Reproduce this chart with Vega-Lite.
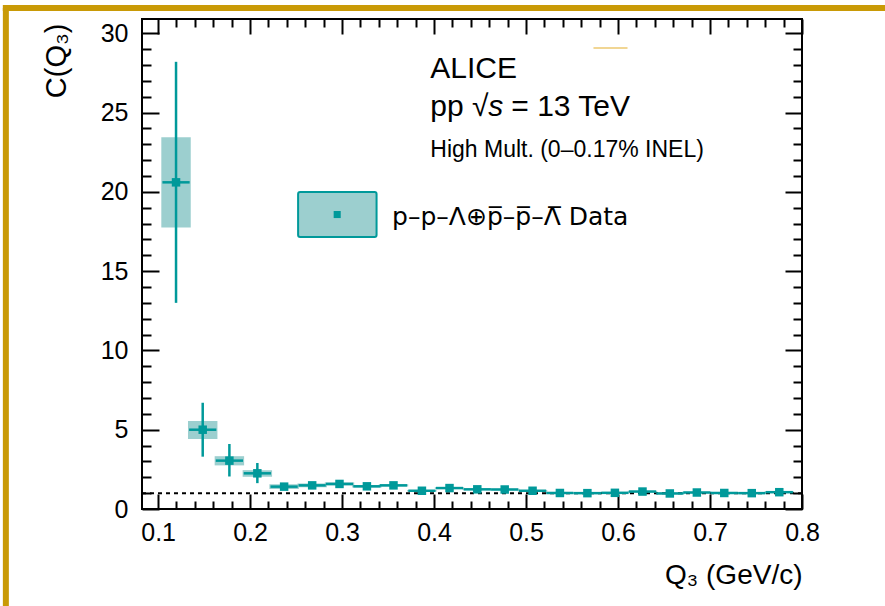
{
  "$schema": "https://vega.github.io/schema/vega-lite/v6.json",
  "width": 660,
  "height": 490,
  "autosize": "none",
  "padding": {"left": 142, "top": 19, "right": 83, "bottom": 97},
  "background": "white",
  "config": {
    "view": {"stroke": "#000", "strokeWidth": 2},
    "font": "Liberation Sans",
    "axis": {
      "domain": false, "grid": false, "tickColor": "#000", "tickWidth": 2,
      "labelFont": "Liberation Sans", "labelFontSize": 25, "labelColor": "#000",
      "labelFlush": false, "labelOverlap": false, "labelBound": false,
      "titleFont": "Liberation Sans", "titleColor": "#000", "titleFontWeight": "normal"
    },
    "text": {"font": "Liberation Sans", "color": "#000"}
  },
  "datasets": {
    "one": [{}],
    "pts": [
      {"q": 0.1195, "c": 20.6, "lo": 13.0, "hi": 28.2, "slo": 17.75, "shi": 23.45, "qlo": 0.1047, "qhi": 0.1343, "blo": 0.1035, "bhi": 0.1355},
      {"q": 0.1485, "c": 5.0, "lo": 3.3, "hi": 6.7, "slo": 4.42, "shi": 5.55, "qlo": 0.1337, "qhi": 0.1633, "blo": 0.1325, "bhi": 0.1645},
      {"q": 0.1775, "c": 3.05, "lo": 2.05, "hi": 4.1, "slo": 2.75, "shi": 3.33, "qlo": 0.1627, "qhi": 0.1923, "blo": 0.1615, "bhi": 0.1935},
      {"q": 0.2079, "c": 2.25, "lo": 1.63, "hi": 2.9, "slo": 2.03, "shi": 2.45, "qlo": 0.1931, "qhi": 0.2227, "blo": 0.1919, "bhi": 0.2239},
      {"q": 0.2370, "c": 1.41, "lo": 1.24, "hi": 1.58, "slo": 1.26, "shi": 1.56, "qlo": 0.2222, "qhi": 0.2518, "blo": 0.2210, "bhi": 0.2530},
      {"q": 0.2675, "c": 1.49, "lo": 1.35, "hi": 1.63, "slo": 1.37, "shi": 1.61, "qlo": 0.2527, "qhi": 0.2823, "blo": 0.2515, "bhi": 0.2835},
      {"q": 0.2972, "c": 1.58, "lo": 1.45, "hi": 1.71, "slo": 1.48, "shi": 1.68, "qlo": 0.2824, "qhi": 0.3120, "blo": 0.2812, "bhi": 0.3132},
      {"q": 0.3270, "c": 1.43, "lo": 1.32, "hi": 1.54, "slo": 1.35, "shi": 1.51, "qlo": 0.3122, "qhi": 0.3418, "blo": 0.3110, "bhi": 0.3430},
      {"q": 0.3559, "c": 1.49, "lo": 1.39, "hi": 1.59, "slo": 1.42, "shi": 1.56, "qlo": 0.3411, "qhi": 0.3707, "blo": 0.3399, "bhi": 0.3719},
      {"q": 0.3868, "c": 1.15, "lo": 1.07, "hi": 1.23, "slo": 1.10, "shi": 1.20, "qlo": 0.3720, "qhi": 0.4016, "blo": 0.3708, "bhi": 0.4028},
      {"q": 0.4168, "c": 1.32, "lo": 1.24, "hi": 1.40, "slo": 1.27, "shi": 1.37, "qlo": 0.4020, "qhi": 0.4316, "blo": 0.4008, "bhi": 0.4328},
      {"q": 0.4470, "c": 1.24, "lo": 1.16, "hi": 1.32, "slo": 1.19, "shi": 1.29, "qlo": 0.4322, "qhi": 0.4618, "blo": 0.4310, "bhi": 0.4630},
      {"q": 0.4768, "c": 1.23, "lo": 1.15, "hi": 1.31, "slo": 1.18, "shi": 1.28, "qlo": 0.4620, "qhi": 0.4916, "blo": 0.4608, "bhi": 0.4928},
      {"q": 0.5071, "c": 1.15, "lo": 1.07, "hi": 1.23, "slo": 1.10, "shi": 1.20, "qlo": 0.4923, "qhi": 0.5219, "blo": 0.4911, "bhi": 0.5231},
      {"q": 0.5368, "c": 1.01, "lo": 0.95, "hi": 1.07, "slo": 0.96, "shi": 1.06, "qlo": 0.5220, "qhi": 0.5516, "blo": 0.5208, "bhi": 0.5528},
      {"q": 0.5667, "c": 1.0, "lo": 0.94, "hi": 1.06, "slo": 0.95, "shi": 1.05, "qlo": 0.5519, "qhi": 0.5815, "blo": 0.5507, "bhi": 0.5827},
      {"q": 0.5966, "c": 1.02, "lo": 0.96, "hi": 1.08, "slo": 0.97, "shi": 1.07, "qlo": 0.5818, "qhi": 0.6114, "blo": 0.5806, "bhi": 0.6126},
      {"q": 0.6266, "c": 1.1, "lo": 1.04, "hi": 1.16, "slo": 1.05, "shi": 1.15, "qlo": 0.6118, "qhi": 0.6414, "blo": 0.6106, "bhi": 0.6426},
      {"q": 0.6563, "c": 0.98, "lo": 0.92, "hi": 1.04, "slo": 0.93, "shi": 1.03, "qlo": 0.6415, "qhi": 0.6711, "blo": 0.6403, "bhi": 0.6723},
      {"q": 0.6857, "c": 1.04, "lo": 0.98, "hi": 1.10, "slo": 0.99, "shi": 1.09, "qlo": 0.6709, "qhi": 0.7005, "blo": 0.6697, "bhi": 0.7017},
      {"q": 0.7155, "c": 1.01, "lo": 0.95, "hi": 1.07, "slo": 0.96, "shi": 1.06, "qlo": 0.7007, "qhi": 0.7303, "blo": 0.6995, "bhi": 0.7315},
      {"q": 0.7454, "c": 1.0, "lo": 0.94, "hi": 1.06, "slo": 0.95, "shi": 1.05, "qlo": 0.7306, "qhi": 0.7602, "blo": 0.7294, "bhi": 0.7614},
      {"q": 0.7753, "c": 1.06, "lo": 1.0, "hi": 1.12, "slo": 1.01, "shi": 1.11, "qlo": 0.7605, "qhi": 0.7901, "blo": 0.7593, "bhi": 0.7913}
    ]
  },
  "resolve": {"axis": {"x": "independent", "y": "independent"}},
  "layer": [
    {
      "data": {"name": "pts"},
      "mark": {"type": "rect", "fill": "#9ccfcf", "stroke": null},
      "encoding": {
        "x": {"field": "blo", "type": "quantitative", "scale": {"domain": [0.0825, 0.8], "nice": false, "zero": false},
              "axis": {"orient": "bottom", "values": [0.1, 0.2, 0.3, 0.4, 0.5, 0.6, 0.7, 0.8], "tickSize": -15, "labelPadding": 26, "labelFontSize": 25, "format": ".1f",
                       "title": "Q₃ (GeV/c)", "titleFontSize": 28, "titleX": 660, "titleY": 74, "titleAlign": "right", "titleBaseline": "alphabetic", "titleAngle": 0}},
        "x2": {"field": "bhi"},
        "y": {"field": "slo", "type": "quantitative", "scale": {"domain": [0, 30.9], "nice": false, "zero": false},
              "axis": {"orient": "left", "values": [0, 5, 10, 15, 20, 25, 30], "tickSize": -17, "labelPadding": 31, "labelFontSize": 25,
                       "title": "C(Q₃)", "titleFontSize": 29, "titleX": -77, "titleY": 4, "titleAngle": -90, "titleAlign": "right", "titleBaseline": "alphabetic"}},
        "y2": {"field": "shi"}
      }
    },
    {
      "data": {"name": "one"},
      "mark": {"type": "rule", "color": "#000", "strokeWidth": 2, "strokeDash": [4, 4]},
      "encoding": {"y": {"datum": 1, "type": "quantitative", "scale": {"domain": [0, 30.9], "nice": false, "zero": false}, "axis": null}}
    },
    {
      "data": {"name": "pts"},
      "mark": {"type": "rule", "color": "#00999a", "strokeWidth": 2.5},
      "encoding": {
        "x": {"field": "qlo", "type": "quantitative", "scale": {"domain": [0.0825, 0.8], "nice": false, "zero": false},
              "axis": {"orient": "top", "values": [0.1, 0.2, 0.3, 0.4, 0.5, 0.6, 0.7, 0.8], "tickSize": -15, "labels": false, "title": null}},
        "x2": {"field": "qhi"},
        "y": {"field": "c", "type": "quantitative", "scale": {"domain": [0, 30.9], "nice": false, "zero": false},
              "axis": {"orient": "right", "values": [0, 5, 10, 15, 20, 25, 30], "tickSize": -17, "labels": false, "title": null}}
      }
    },
    {
      "data": {"name": "pts"},
      "mark": {"type": "rule", "color": "#00999a", "strokeWidth": 2.5},
      "encoding": {
        "x": {"field": "q", "type": "quantitative", "scale": {"domain": [0.0825, 0.8], "nice": false, "zero": false},
              "axis": {"orient": "bottom", "values": [0.12, 0.14, 0.16, 0.18, 0.22, 0.24, 0.26, 0.28, 0.32, 0.34, 0.36, 0.38, 0.42, 0.44, 0.46, 0.48, 0.52, 0.54, 0.56, 0.58, 0.62, 0.64, 0.66, 0.68, 0.72, 0.74, 0.76, 0.78], "tickSize": -8, "labels": false, "title": null}},
        "y": {"field": "lo", "type": "quantitative", "scale": {"domain": [0, 30.9], "nice": false, "zero": false},
              "axis": {"orient": "left", "values": [1, 2, 3, 4, 6, 7, 8, 9, 11, 12, 13, 14, 16, 17, 18, 19, 21, 22, 23, 24, 26, 27, 28, 29], "tickSize": -9, "labels": false, "title": null}},
        "y2": {"field": "hi"}
      }
    },
    {
      "data": {"name": "pts"},
      "mark": {"type": "point", "shape": "square", "filled": true, "color": "#00999a", "size": 72, "opacity": 1},
      "encoding": {
        "x": {"field": "q", "type": "quantitative", "scale": {"domain": [0.0825, 0.8], "nice": false, "zero": false},
              "axis": {"orient": "top", "values": [0.12, 0.14, 0.16, 0.18, 0.22, 0.24, 0.26, 0.28, 0.32, 0.34, 0.36, 0.38, 0.42, 0.44, 0.46, 0.48, 0.52, 0.54, 0.56, 0.58, 0.62, 0.64, 0.66, 0.68, 0.72, 0.74, 0.76, 0.78], "tickSize": -8, "labels": false, "title": null}},
        "y": {"field": "c", "type": "quantitative", "scale": {"domain": [0, 30.9], "nice": false, "zero": false},
              "axis": {"orient": "right", "values": [1, 2, 3, 4, 6, 7, 8, 9, 11, 12, 13, 14, 16, 17, 18, 19, 21, 22, 23, 24, 26, 27, 28, 29], "tickSize": -9, "labels": false, "title": null}}
      }
    },
    {
      "data": {"name": "one"},
      "mark": {"type": "rect", "fill": "#9ccfcf", "stroke": "#00999a", "strokeWidth": 2, "cornerRadius": 2},
      "encoding": {
        "x": {"datum": 0.2522, "type": "quantitative", "scale": {"domain": [0.0825, 0.8], "nice": false, "zero": false}, "axis": null},
        "x2": {"datum": 0.3375},
        "y": {"datum": 19.99, "type": "quantitative", "scale": {"domain": [0, 30.9], "nice": false, "zero": false}, "axis": null},
        "y2": {"datum": 17.15}
      }
    },
    {
      "data": {"name": "one"},
      "mark": {"type": "point", "shape": "square", "filled": true, "color": "#00999a", "size": 50, "opacity": 1},
      "encoding": {
        "x": {"datum": 0.2947, "type": "quantitative", "scale": {"domain": [0.0825, 0.8], "nice": false, "zero": false}, "axis": null},
        "y": {"datum": 18.57, "type": "quantitative", "scale": {"domain": [0, 30.9], "nice": false, "zero": false}, "axis": null}
      }
    },
    {
      "data": {"name": "one"},
      "mark": {"type": "text", "text": "ALICE", "fontSize": 30, "align": "left", "baseline": "alphabetic"},
      "encoding": {
        "x": {"datum": 0.3959, "type": "quantitative", "scale": {"domain": [0.0825, 0.8], "nice": false, "zero": false}, "axis": null},
        "y": {"datum": 27.19, "type": "quantitative", "scale": {"domain": [0, 30.9], "nice": false, "zero": false}, "axis": null}
      }
    },
    {
      "data": {"name": "one"},
      "mark": {"type": "text", "text": "pp √", "fontSize": 30, "align": "left", "baseline": "alphabetic"},
      "encoding": {
        "x": {"datum": 0.3959, "type": "quantitative", "scale": {"domain": [0.0825, 0.8], "nice": false, "zero": false}, "axis": null},
        "y": {"datum": 24.78, "type": "quantitative", "scale": {"domain": [0, 30.9], "nice": false, "zero": false}, "axis": null}
      }
    },
    {
      "data": {"name": "one"},
      "mark": {"type": "text", "text": "s", "fontSize": 30, "fontStyle": "italic", "align": "left", "baseline": "alphabetic"},
      "encoding": {
        "x": {"datum": 0.459, "type": "quantitative", "scale": {"domain": [0.0825, 0.8], "nice": false, "zero": false}, "axis": null},
        "y": {"datum": 24.78, "type": "quantitative", "scale": {"domain": [0, 30.9], "nice": false, "zero": false}, "axis": null}
      }
    },
    {
      "data": {"name": "one"},
      "mark": {"type": "text", "text": "= 13 TeV", "fontSize": 30, "align": "left", "baseline": "alphabetic"},
      "encoding": {
        "x": {"datum": 0.484, "type": "quantitative", "scale": {"domain": [0.0825, 0.8], "nice": false, "zero": false}, "axis": null},
        "y": {"datum": 24.78, "type": "quantitative", "scale": {"domain": [0, 30.9], "nice": false, "zero": false}, "axis": null}
      }
    },
    {
      "data": {"name": "one"},
      "mark": {"type": "text", "text": "High Mult. (0–0.17% INEL)", "fontSize": 23, "align": "left", "baseline": "alphabetic"},
      "encoding": {
        "x": {"datum": 0.3959, "type": "quantitative", "scale": {"domain": [0.0825, 0.8], "nice": false, "zero": false}, "axis": null},
        "y": {"datum": 22.21, "type": "quantitative", "scale": {"domain": [0, 30.9], "nice": false, "zero": false}, "axis": null}
      }
    },
    {
      "data": {"name": "one"},
      "mark": {"type": "text", "text": "p–p–Λ⊕p\u0305–p\u0305–Λ\u0305 Data", "font": "DejaVu Sans", "fontSize": 25, "align": "left", "baseline": "alphabetic"},
      "encoding": {
        "x": {"datum": 0.3544, "type": "quantitative", "scale": {"domain": [0.0825, 0.8], "nice": false, "zero": false}, "axis": null},
        "y": {"datum": 17.9, "type": "quantitative", "scale": {"domain": [0, 30.9], "nice": false, "zero": false}, "axis": null}
      }
    },
    {
      "data": {"name": "one"},
      "mark": {"type": "rule", "color": "#c99a06", "strokeWidth": 6},
      "encoding": {
        "x": {"datum": -0.0688, "type": "quantitative", "scale": {"domain": [0.0825, 0.8], "nice": false, "zero": false}, "axis": null},
        "x2": {"datum": 1.0},
        "y": {"datum": 31.6, "type": "quantitative", "scale": {"domain": [0, 30.9], "nice": false, "zero": false}, "axis": null}
      }
    },
    {
      "data": {"name": "one"},
      "mark": {"type": "rule", "color": "#c99a06", "strokeWidth": 6},
      "encoding": {
        "x": {"datum": -0.0655, "type": "quantitative", "scale": {"domain": [0.0825, 0.8], "nice": false, "zero": false}, "axis": null},
        "y": {"datum": 31.6, "type": "quantitative", "scale": {"domain": [0, 30.9], "nice": false, "zero": false}, "axis": null},
        "y2": {"datum": -10}
      }
    },
    {
      "data": {"name": "one"},
      "mark": {"type": "rule", "color": "#ecc870", "strokeWidth": 1.5},
      "encoding": {
        "x": {"datum": 0.5733, "type": "quantitative", "scale": {"domain": [0.0825, 0.8], "nice": false, "zero": false}, "axis": null},
        "x2": {"datum": 0.6103},
        "y": {"datum": 29.07, "type": "quantitative", "scale": {"domain": [0, 30.9], "nice": false, "zero": false}, "axis": null}
      }
    }
  ]
}
